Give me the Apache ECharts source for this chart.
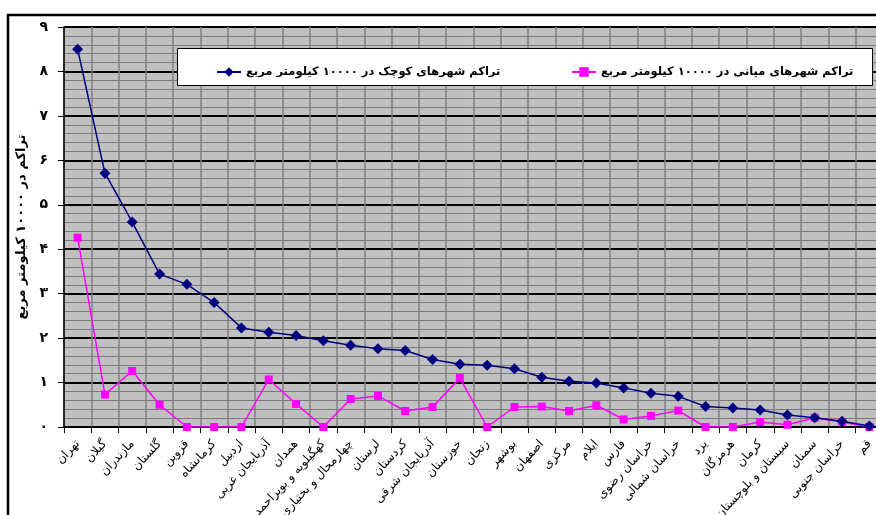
<!DOCTYPE html>
<html>
<head>
<meta charset="utf-8">
<script src="https://cdn.jsdelivr.net/npm/echarts@6/dist/echarts.min.js"></script>
<style>
  html, body { margin: 0; padding: 0; background: #fff; }
  #chart { width: 876px; height: 515px; }
</style>
</head>
<body>
<div id="chart"></div>
<script>
// provinces, left to right
const provinces = [
  'تهران', 'گیلان', 'مازندران', 'گلستان', 'قزوین', 'کرمانشاه', 'اردبیل',
  'آذربایجان غربی', 'همدان', 'کهگیلویه و بویراحمد', 'چهارمحال و بختیاری',
  'لرستان', 'کردستان', 'آذربایجان شرقی', 'خوزستان', 'زنجان', 'بوشهر',
  'اصفهان', 'مرکزی', 'ایلام', 'فارس', 'خراسان رضوی', 'خراسان شمالی',
  'یزد', 'هرمزگان', 'کرمان', 'سیستان و بلوچستان', 'سمنان', 'خراسان جنوبی', 'قم'
];

const smallCities = [
  8.5, 5.71, 4.61, 3.44, 3.21, 2.8, 2.23, 2.13, 2.06, 1.94,
  1.84, 1.76, 1.72, 1.52, 1.41, 1.39, 1.31, 1.12, 1.03, 0.99,
  0.88, 0.76, 0.69, 0.46, 0.43, 0.38, 0.27, 0.21, 0.13, 0.02
];

const mediumCities = [
  4.26, 0.73, 1.26, 0.5, 0, 0, 0, 1.07, 0.52, 0,
  0.63, 0.7, 0.36, 0.45, 1.1, 0, 0.45, 0.46, 0.36, 0.49,
  0.17, 0.25, 0.37, 0, 0, 0.11, 0.05, 0.21, 0.11, 0
];

const yLabels = ['۰', '۱', '۲', '۳', '۴', '۵', '۶', '۷', '۸', '۹'];

const smallName = 'تراکم شهرهای کوچک در ۱۰۰۰۰ کیلومتر مربع';
const mediumName = 'تراکم شهرهای میانی در ۱۰۰۰۰ کیلومتر مربع';

const font = 'DejaVu Sans';

const chart = echarts.init(document.getElementById('chart'));

chart.setOption({
  animation: false,
  textStyle: { fontFamily: font },
  graphic: [
    {
      type: 'rect',
      z: 0,
      shape: { x: 8, y: 15, width: 900, height: 520 },
      style: { fill: 'none', stroke: '#000', lineWidth: 2.5 }
    },
    {
      type: 'rect',
      z: 10,
      shape: { x: 177.5, y: 48.5, width: 695, height: 37 },
      style: { fill: '#fff', stroke: '#000', lineWidth: 1 }
    }
  ],
  legend: [
    {
      z: 20,
      left: 211,
      top: 61,
      data: [smallName],
      itemWidth: 24,
      itemHeight: 12,
      itemGap: 8,
      textStyle: { fontFamily: font, fontSize: 11.5, fontWeight: 'bold', color: '#000' }
    },
    {
      z: 20,
      left: 566,
      top: 61,
      data: [mediumName],
      itemWidth: 24,
      itemHeight: 12,
      itemGap: 8,
      textStyle: { fontFamily: font, fontSize: 11.5, fontWeight: 'bold', color: '#000' }
    }
  ],
  grid: {
    left: 64,
    top: 27,
    bottom: 88,
    right: -7,
    outerBoundsMode: 'none',
    containLabel: false,
    show: true,
    backgroundColor: '#c0c0c0',
    borderWidth: 0
  },
  xAxis: {
    type: 'category',
    data: provinces,
    axisLine: { lineStyle: { color: '#000', width: 1.5 } },
    axisTick: { show: true, length: 6, lineStyle: { color: '#000', width: 1 } },
    splitLine: { show: true, interval: 0, lineStyle: { color: '#808080', width: 1.5 } },
    axisLabel: {
      interval: 0,
      rotate: 47,
      margin: 15,
      fontFamily: font,
      fontSize: 12,
      color: '#000'
    }
  },
  yAxis: {
    type: 'value',
    min: 0,
    max: 9,
    interval: 1,
    name: 'تراکم در ۱۰۰۰۰ کیلومتر مربع',
    nameLocation: 'middle',
    nameRotate: 90,
    nameGap: 36,
    nameTextStyle: { fontFamily: font, fontSize: 13, fontWeight: 'bold', color: '#000' },
    axisLine: { show: true, lineStyle: { color: '#000', width: 1.5 } },
    axisTick: { show: true, length: 6, lineStyle: { color: '#000', width: 1 } },
    axisLabel: {
      margin: 16,
      fontFamily: font,
      fontSize: 14,
      fontWeight: 'bold',
      color: '#000',
      formatter: v => yLabels[Math.round(v)]
    },
    splitLine: { show: true, lineStyle: { color: '#000', width: 2 } },
    minorTick: { show: false, splitNumber: 5 },
    minorSplitLine: { show: true, lineStyle: { color: '#7a7a7a', width: 1 } }
  },
  series: [
    {
      name: smallName,
      type: 'line',
      data: smallCities,
      symbol: 'diamond',
      symbolSize: 11,
      itemStyle: { color: '#000080' },
      lineStyle: { color: '#000080', width: 1.5 },
      z: 3
    },
    {
      name: mediumName,
      type: 'line',
      data: mediumCities,
      symbol: 'rect',
      symbolSize: 8,
      itemStyle: { color: '#ff00ff' },
      lineStyle: { color: '#ff00ff', width: 1.5 },
      z: 2
    }
  ]
});
</script>
</body>
</html>
